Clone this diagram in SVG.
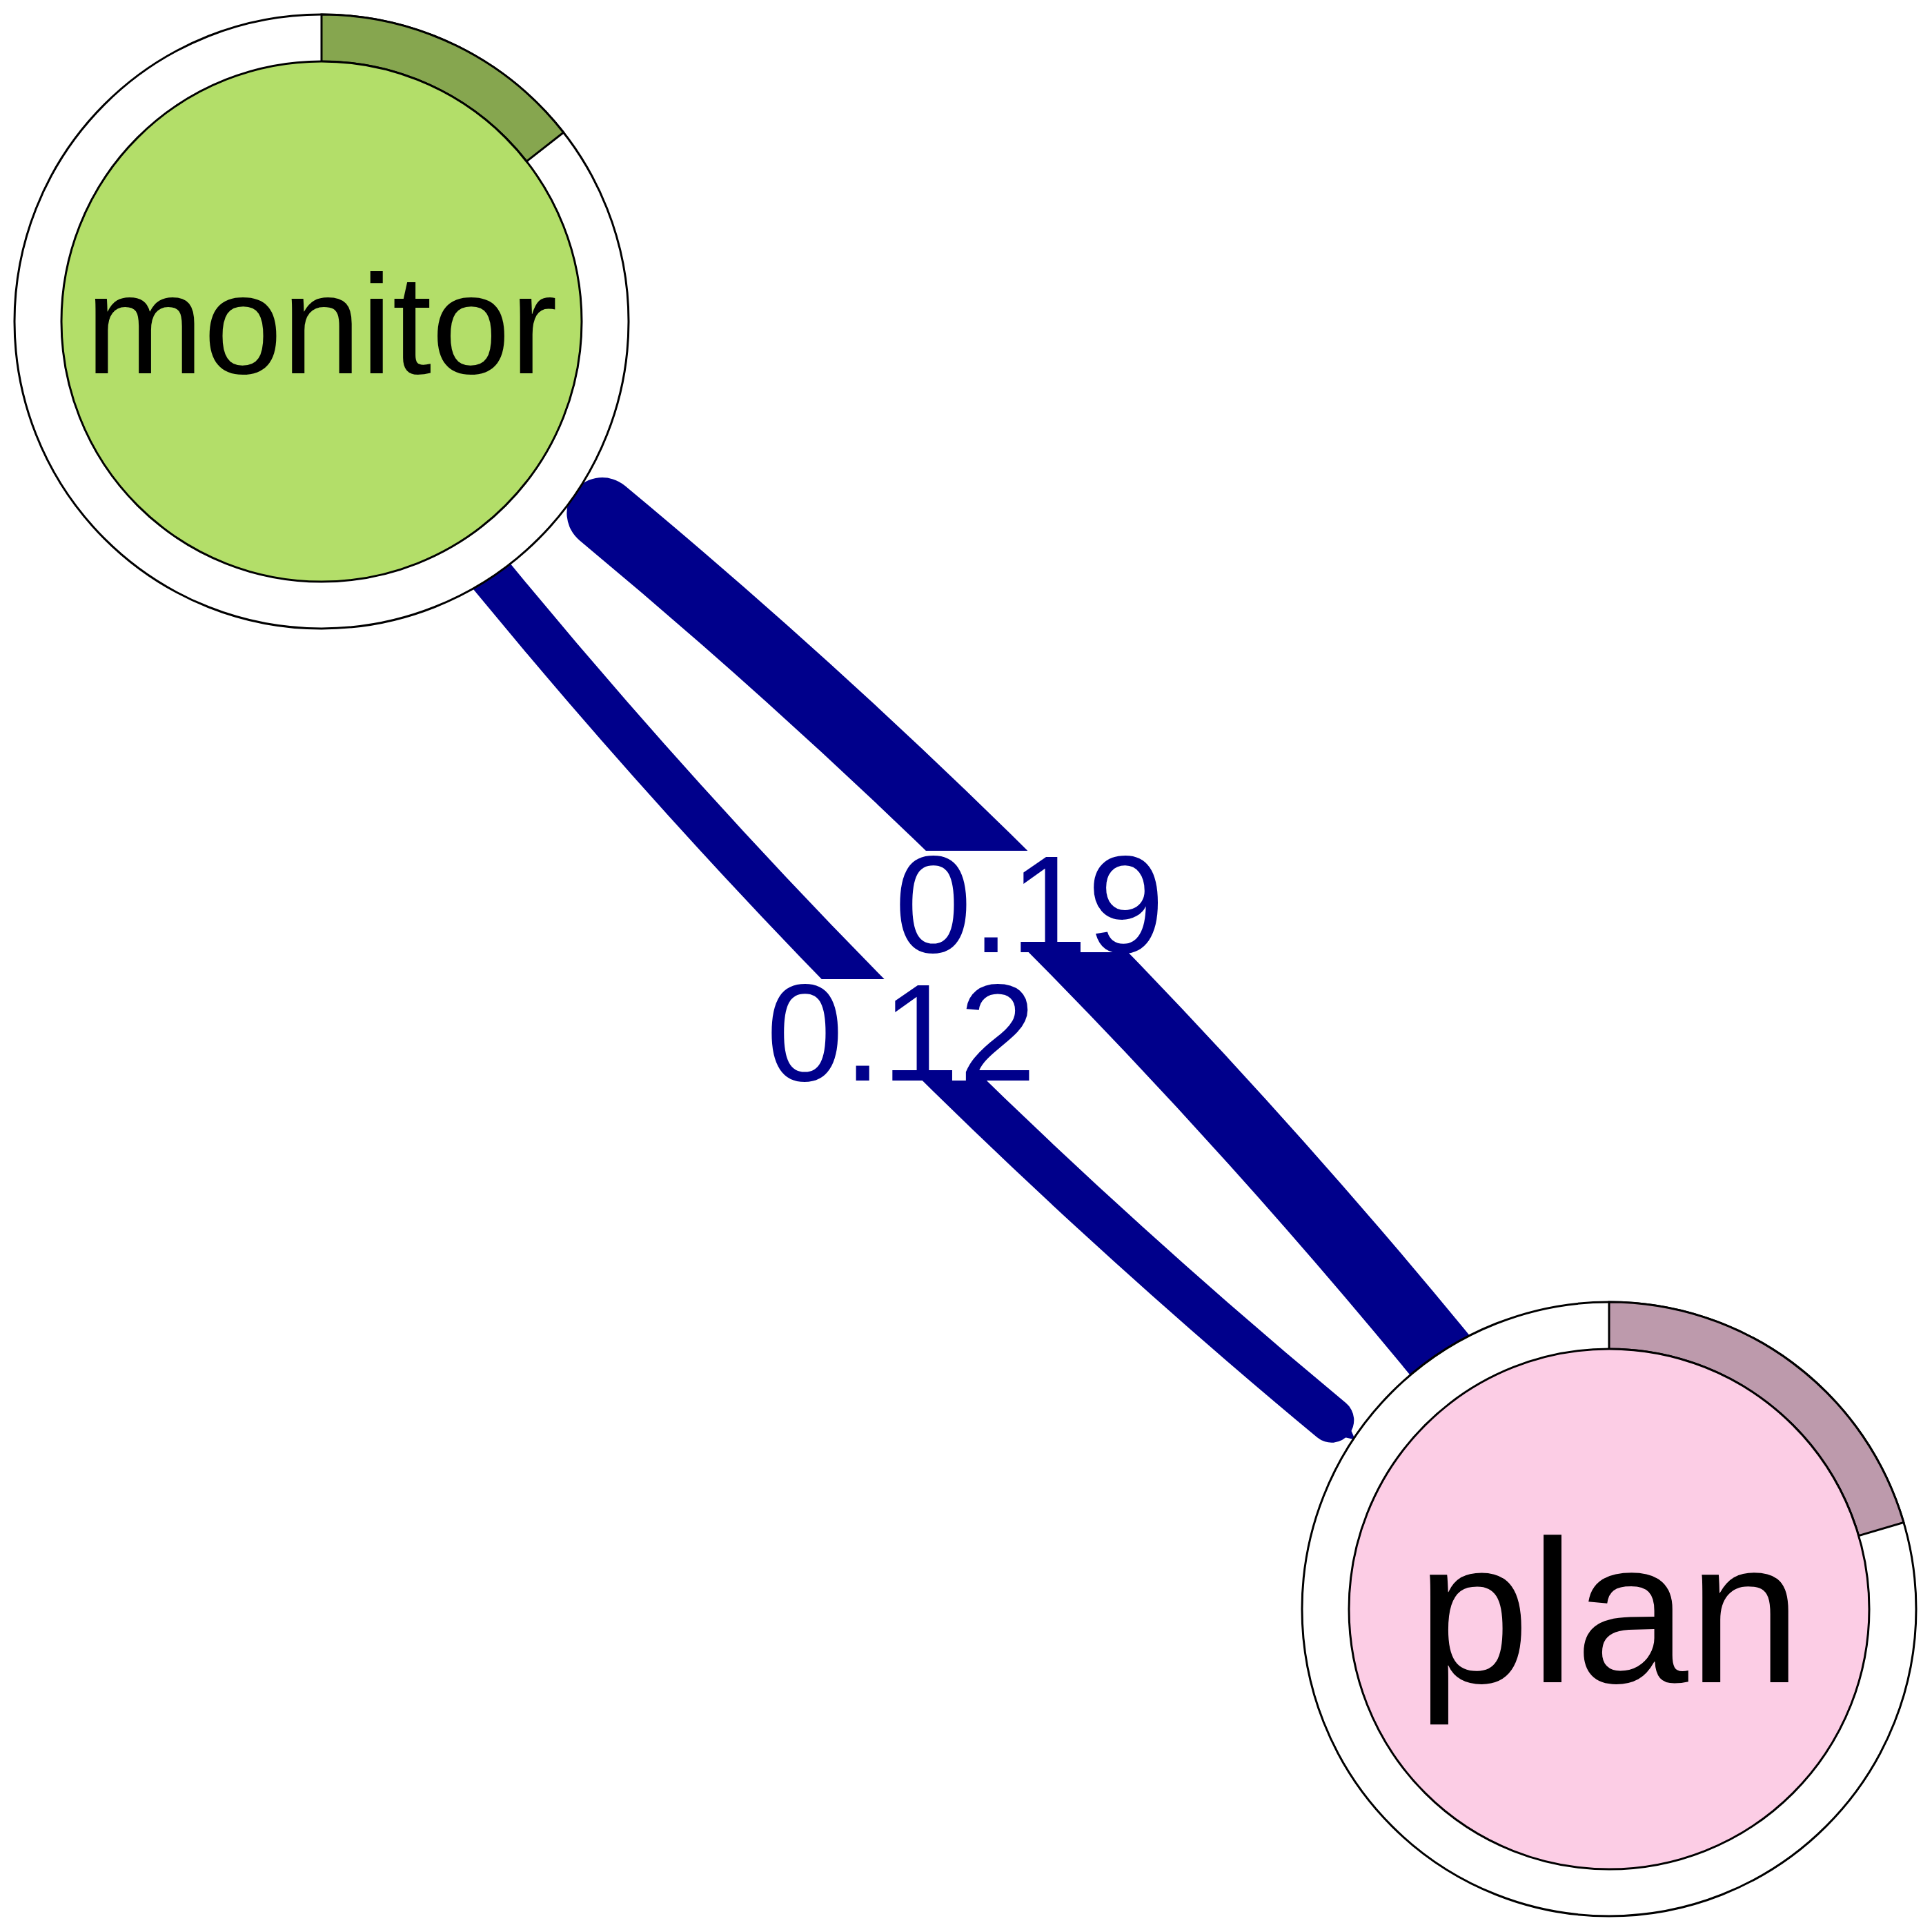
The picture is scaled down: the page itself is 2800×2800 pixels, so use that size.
<svg xmlns="http://www.w3.org/2000/svg" width="2800" height="2800" viewBox="0 0 2800 2800">
<style>
.edge{fill:none;stroke:#00008B;stroke-linecap:round}
.ring{fill:#FFFFFF;stroke:#000000;stroke-width:3}
.arc{stroke:#000000;stroke-width:3}
.core{stroke:#000000;stroke-width:3}
.nlabel{font-family:"Liberation Sans",Arial,Helvetica,sans-serif;fill:#000000;text-anchor:middle}
.elabel{font-family:"Liberation Sans",Arial,Helvetica,sans-serif;fill:#00008B;text-anchor:middle;font-size:201px}
</style>
<rect x="0" y="0" width="2800" height="2800" fill="#FFFFFF"/>
<g id="edges">
  <path id="edge-plan-monitor" class="edge" stroke-width="103" d="M2203.8,2109.6 Q1609.4,1355.5 872.9,743.6"/>
  <path id="edge-monitor-plan" class="edge" stroke-width="65" d="M559,643.1 Q1168.5,1426.6 1929.8,2058.3"/>
  <polygon fill="#00008B" points="1937.8,2080.4 1953.2,2061.8 1964,2086.5"/>
</g>
<g id="node-monitor">
  <circle class="ring" cx="466" cy="466" r="445"/>
  <path class="arc" fill="#86A64F" d="M466,21 A445,445 0 0 1 816.7,192 L763.1,233.9 A377,377 0 0 0 466,89 Z"/>
  <circle class="core" fill="#B3DE69" cx="466" cy="466" r="377"/>
  <text class="nlabel" x="466" y="541" font-size="205">monitor</text>
</g>
<g id="node-plan">
  <circle class="ring" cx="2332" cy="2332" r="445"/>
  <path class="arc" fill="#BD9AAC" d="M2332,1887 A445,445 0 0 1 2758.9,2206.4 L2693.7,2225.6 A377,377 0 0 0 2332,1955 Z"/>
  <circle class="core" fill="#FCCDE5" cx="2332" cy="2332" r="377"/>
  <text class="nlabel" x="2332" y="2438" font-size="295">plan</text>
</g>
<g id="edge-labels">
  <rect x="1296" y="1233" width="392" height="147" fill="#FFFFFF"/>
  <text class="elabel" x="1492" y="1380">0.19</text>
  <rect x="1110" y="1419" width="392" height="147" fill="#FFFFFF"/>
  <text class="elabel" x="1306" y="1566">0.12</text>
</g>
</svg>
